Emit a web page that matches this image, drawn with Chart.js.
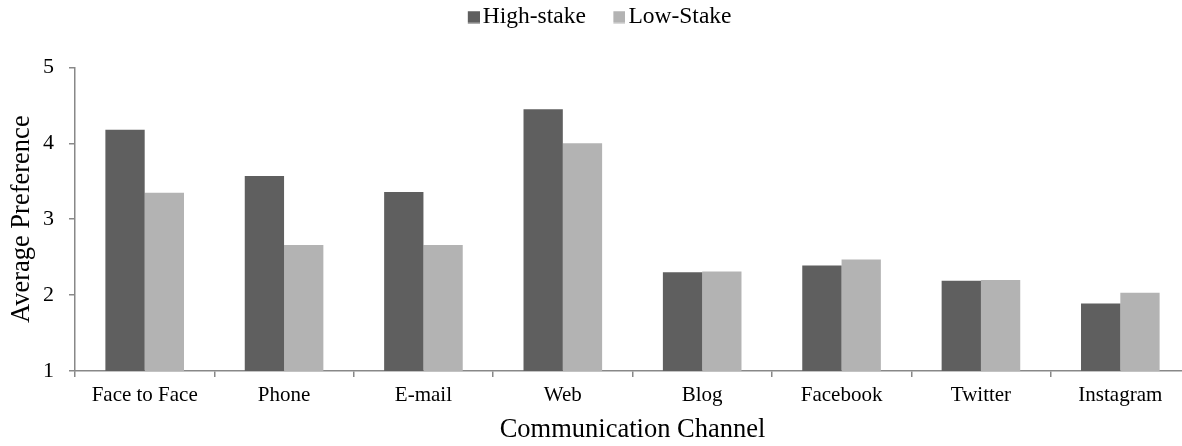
<!DOCTYPE html>
<html>
<head>
<meta charset="utf-8">
<script src="https://cdn.jsdelivr.net/npm/chart.js@4/dist/chart.umd.min.js"></script>
<style>
  html, body { margin: 0; padding: 0; background: #fff; overflow: hidden; }
  #wrap { width: 1182px; height: 446px; overflow: hidden; }
  canvas { display: block; }
</style>
</head>
<body>
<div id="wrap"><canvas id="c" width="1190" height="446" style="width:1190px;height:446px"></canvas></div>
<script>
const categories = ['Face to Face', 'Phone', 'E-mail', 'Web', 'Blog', 'Facebook', 'Twitter', 'Instagram'];
const highStake = [4.18, 3.57, 3.36, 4.45, 2.30, 2.39, 2.19, 1.89];
const lowStake  = [3.35, 2.66, 2.66, 4.00, 2.31, 2.47, 2.20, 2.03];
const seriesNames = ['High-stake', 'Low-Stake'];
const seriesColors = ['#5f5f5f', '#b3b3b3'];
const yTicks = [1, 2, 3, 4, 5];

const FONT = "'Liberation Serif', 'Times New Roman', serif";
const AXIS = '#888888';

Chart.defaults.color = '#000';
Chart.defaults.font.family = FONT;

// legend marker: 12x12 square placed in the right half of a 24px-wide image
function legendMarker(color) {
  const cv = document.createElement('canvas');
  cv.width = 24; cv.height = 13;
  const cx = cv.getContext('2d');
  cx.fillStyle = color;
  cx.fillRect(12, 0.5, 12, 12);
  return cv;
}
const markers = seriesColors.map(legendMarker);

const legendTweak = {
  id: 'legendTweak',
  beforeUpdate(chart) {
    const lg = chart.legend;
    if (lg && !lg._tweaked) {
      const orig = lg.fit.bind(lg);
      lg.fit = function () { orig(); this.height = 67.4; };
      lg._tweaked = true;
    }
  },
  afterLayout(chart) {
    const lg = chart.legend;
    if (lg) { lg.top = -19; lg.left += 3; lg.right += 3; }
  }
};

new Chart(document.getElementById('c'), {
  type: 'bar',
  data: {
    labels: categories,
    datasets: [
      { label: seriesNames[0], data: highStake, backgroundColor: seriesColors[0], borderWidth: 0 },
      { label: seriesNames[1], data: lowStake, backgroundColor: seriesColors[1], borderWidth: 0 }
    ]
  },
  options: {
    responsive: false,
    animation: false,
    devicePixelRatio: 1,
    layout: { padding: 0 },
    categoryPercentage: 0.564,
    barPercentage: 1.0,
    plugins: {
      legend: {
        display: true,
        position: 'top',
        labels: {
          usePointStyle: true,
          boxWidth: 6.5,
          boxHeight: 12,
          padding: 24.25,
          color: '#000',
          font: { family: FONT, size: 23.5 },
          generateLabels(chart) {
            const items = Chart.defaults.plugins.legend.labels.generateLabels(chart);
            items.forEach((it, i) => { it.pointStyle = markers[i]; });
            return items;
          }
        }
      },
      tooltip: { enabled: false }
    },
    scales: {
      x: {
        afterFit(scale) { scale.height = 75; },
        grid: { display: true, drawOnChartArea: false, drawTicks: true, tickLength: 6, color: AXIS, lineWidth: 1.5, offset: true },
        border: { display: true, color: AXIS, width: 1.5 },
        ticks: { color: '#000', font: { family: FONT, size: 21 }, padding: 6, maxRotation: 0, autoSkip: false },
        title: { display: true, text: 'Communication Channel', color: '#000', font: { family: FONT, size: 26.5 }, padding: { top: 0, bottom: 0 } }
      },
      y: {
        min: 1,
        max: 5,
        afterFit(scale) { scale.width = 75; },
        afterBuildTicks(scale) { scale.ticks = yTicks.map(v => ({ value: v })); },
        grid: { display: true, drawOnChartArea: false, drawTicks: true, tickLength: 6, color: AXIS, lineWidth: 1.5 },
        border: { display: true, color: AXIS, width: 1.5 },
        ticks: { stepSize: 1, color: '#000', font: { family: FONT, size: 22 }, padding: 15 },
        title: { display: true, text: 'Average Preference', color: '#000', font: { family: FONT, size: 26.5 }, padding: { top: 6, bottom: 0 } }
      }
    }
  },
  plugins: [legendTweak]
});
</script>
</body>
</html>
